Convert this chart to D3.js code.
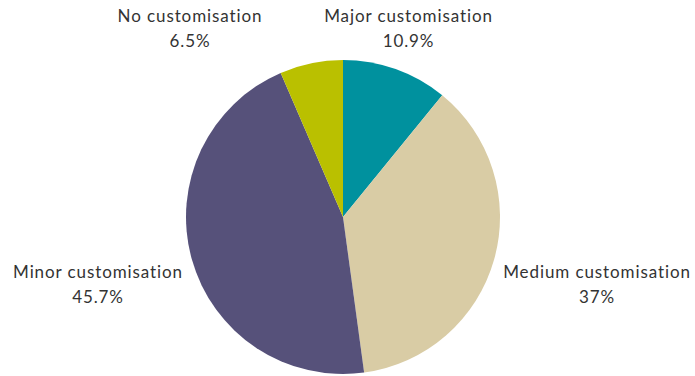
<!DOCTYPE html>
<html>
<head>
<meta charset="utf-8">
<script src="https://cdn.jsdelivr.net/npm/d3@7/dist/d3.min.js"></script>
<style>
  html, body { margin: 0; padding: 0; background: #fff; }
  svg { display: block; }
  text { font-family: Lato, "Open Sans", sans-serif; fill: #333; font-variant-ligatures: none; letter-spacing: 0.9px; }
</style>
</head>
<body>
<svg id="chart" width="695" height="376"></svg>
<script>
// Share of respondents by level of customisation
const categories = ["Major customisation", "Medium customisation", "Minor customisation", "No customisation"];
const values = [10.9, 37, 45.7, 6.5];
const valueLabels = ["10.9%", "37%", "45.7%", "6.5%"];
const colors = ["#00919e", "#d9cca5", "#56517a", "#bac000"];

const width = 695, height = 376;
const cx = 343, cy = 217, radius = 157;

// Label block centres, relative to the pie centre
const labelOffsets = [
  [65.5, -195],
  [254, 61],
  [-245, 61],
  [-153, -195]
];

const svg = d3.select("#chart");
const g = svg.append("g").attr("transform", `translate(${cx},${cy})`);

const pie = d3.pie().sort(null).value(d => d.value);
const arc = d3.arc().innerRadius(0).outerRadius(radius);

const data = categories.map((c, i) => ({ name: c, value: values[i], label: valueLabels[i], color: colors[i], i }));

g.selectAll("path.slice")
  .data(pie(data))
  .join("path")
  .attr("class", "slice")
  .attr("d", arc)
  .attr("fill", d => d.data.color);

const labels = g.selectAll("text.label")
  .data(data)
  .join("text")
  .attr("class", "label")
  .attr("text-anchor", "middle")
  .attr("font-size", 17)
  .attr("transform", d => `translate(${labelOffsets[d.i][0]},${labelOffsets[d.i][1]})`);

labels.append("tspan").attr("x", 0).attr("y", 0).text(d => d.name);
labels.append("tspan").attr("x", 0).attr("y", 25).text(d => d.label);
</script>
</body>
</html>
